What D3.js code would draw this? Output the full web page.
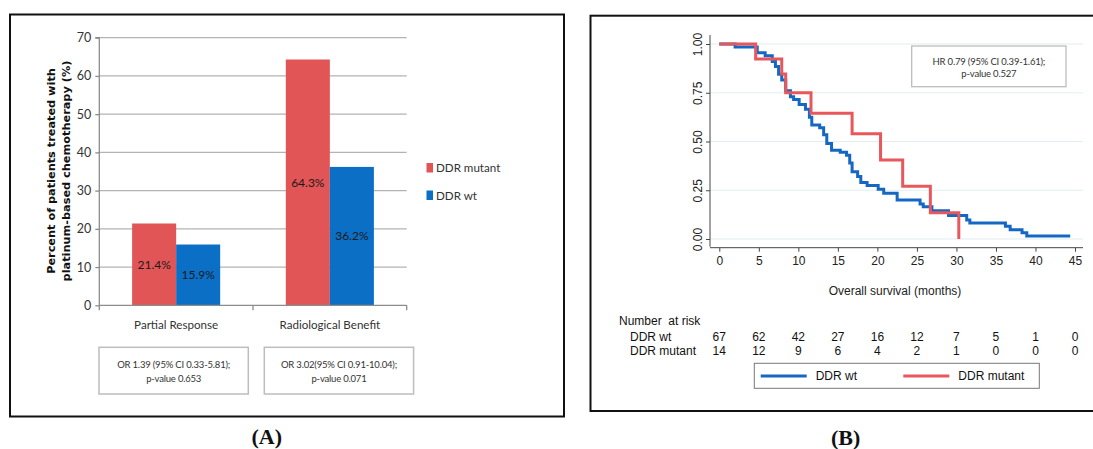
<!DOCTYPE html>
<html><head><meta charset="utf-8">
<script src="https://cdn.jsdelivr.net/npm/d3@7"></script>
<style>
body{margin:0;background:#fff;}
svg{display:block;}
</style></head>
<body><svg id="c" width="1093" height="449"></svg>
<script>
// ---------- Panel A data ----------
const categories = ["Partial Response", "Radiological Benefit"];
const seriesNames = ["DDR mutant", "DDR wt"];
const mutantValues = [21.4, 64.3];
const wtValues = [15.9, 36.2];
const barLabels = [["21.4%", "15.9%"], ["64.3%", "36.2%"]];
const yTicksA = [0, 10, 20, 30, 40, 50, 60, 70];
const orTexts = [["OR 1.39 (95% CI 0.33-5.81);", "p-value 0.653"], ["OR 3.02(95% CI 0.91-10.04);", "p-value 0.071"]];

// ---------- Panel B data ----------
// Kaplan-Meier steps: [month, survival after drop]
const wtTimes =  [0, 2.0, 4.8, 5.8, 6.7, 7.1, 7.5, 7.9, 8.4, 9.0, 9.4, 10.1, 10.9, 11.4, 11.7, 12.7, 13.2, 13.6, 14.2, 15.3, 16.1, 16.5, 16.8, 17.5, 17.9, 18.7, 20.1, 20.8, 22.5, 25.4, 25.8, 26.9, 29.0, 31.3, 31.7, 36.2, 36.8, 38.3, 38.9, 44.2];
const wtSurv =   [1.0, 0.985, 0.955, 0.94, 0.91, 0.885, 0.845, 0.815, 0.76, 0.73, 0.715, 0.69, 0.665, 0.625, 0.585, 0.57, 0.535, 0.49, 0.455, 0.445, 0.43, 0.39, 0.345, 0.32, 0.29, 0.275, 0.255, 0.235, 0.2, 0.18, 0.165, 0.145, 0.12, 0.097, 0.082, 0.065, 0.048, 0.032, 0.015, 0.008];
const mutTimes = [0, 4.6, 7.9, 8.4, 11.6, 16.8, 20.4, 23.2, 26.7, 30.3];
const mutSurv =  [1.0, 0.923, 0.846, 0.75, 0.645, 0.54, 0.405, 0.27, 0.135, 0.0];
const xTicksB = [0, 5, 10, 15, 20, 25, 30, 35, 40, 45];
const yTicksB = [0, 0.25, 0.5, 0.75, 1.0];
const riskWt = [67, 62, 42, 27, 16, 12, 7, 5, 1, 0];
const riskMut = [14, 12, 9, 6, 4, 2, 1, 0, 0, 0];
const hrText = ["HR 0.79 (95% CI 0.39-1.61);", "p-value 0.527"];

const RED = "#e15556", BLUE = "#0b6fc6";
const KM_RED = "#e8575b", KM_BLUE = "#1468c4";
const CAL = "Lato, 'Open Sans', sans-serif";
const ARIAL = "'Liberation Sans', Arial, sans-serif";

const svg = d3.select("#c");

// ================= PANEL A =================
const gA = svg.append("g");
gA.append("rect").attr("x", 10).attr("y", 14.5).attr("width", 554).attr("height", 402)
  .attr("fill", "none").attr("stroke", "#111").attr("stroke-width", 2);

const yA = d3.scaleLinear().domain([0, 70]).range([305.3, 37.7]);
const x0 = d3.scaleBand().domain(categories).range([99.3, 406.7]).paddingInner(0.427).paddingOuter(0.2135);
const x1 = d3.scaleBand().domain(seriesNames).range([0, x0.bandwidth()]);
const colA = d3.scaleOrdinal().domain(seriesNames).range([RED, BLUE]);

// gridlines
gA.append("g").selectAll("line").data(yTicksA.filter(d => d > 0)).join("line")
  .attr("x1", 99.3).attr("x2", 406.7).attr("y1", d => yA(d)).attr("y2", d => yA(d))
  .attr("stroke", "#b3b3b3").attr("stroke-width", 1.3);

// y axis
const yAxisA = gA.append("g").attr("transform", "translate(99.3,0)")
  .call(d3.axisLeft(yA).tickValues(yTicksA).tickSize(4).tickPadding(4));
yAxisA.select(".domain").attr("stroke", "#8c8c8c").attr("stroke-width", 1.3).attr("d", `M-4,${yA(70)}H0V${yA(0)}`);
yAxisA.selectAll(".tick line").attr("stroke", "#8c8c8c").attr("stroke-width", 1.3);
yAxisA.selectAll(".tick text").attr("font-family", CAL).attr("font-size", 12.5).attr("fill", "#333");

// bars
const rows = categories.map((c, i) => ({c, vals: [mutantValues[i], wtValues[i]], labs: barLabels[i]}));
const grp = gA.append("g").selectAll("g").data(rows).join("g")
  .attr("transform", d => `translate(${x0(d.c)},0)`);
grp.selectAll("rect").data(d => d.vals.map((v, j) => ({s: seriesNames[j], v}))).join("rect")
  .attr("x", d => x1(d.s)).attr("width", x1.bandwidth())
  .attr("y", d => yA(d.v)).attr("height", d => yA(0) - yA(d.v))
  .attr("fill", d => colA(d.s));
grp.selectAll("text").data(d => d.vals.map((v, j) => ({s: seriesNames[j], v, l: d.labs[j]}))).join("text")
  .attr("x", d => x1(d.s) + x1.bandwidth() / 2).attr("y", d => (yA(d.v) + yA(0)) / 2)
  .attr("text-anchor", "middle").attr("dy", "0.35em")
  .attr("font-family", CAL).attr("font-size", 12).attr("fill", "#1a1a1a").text(d => d.l);

// x axis
const xAxisG = gA.append("g");
xAxisG.append("line").attr("x1", 99.3).attr("x2", 406.7).attr("y1", yA(0)).attr("y2", yA(0))
  .attr("stroke", "#8c8c8c").attr("stroke-width", 1.3);
const bounds = [99.3, x0.range()[0] + x0.step(), 406.7];
xAxisG.selectAll("line.t").data(bounds).join("line").attr("class", "t")
  .attr("x1", d => d).attr("x2", d => d).attr("y1", yA(0)).attr("y2", yA(0) + 5)
  .attr("stroke", "#8c8c8c").attr("stroke-width", 1.3);
xAxisG.selectAll("text").data(categories).join("text")
  .attr("x", d => x0(d) + x0.bandwidth() / 2).attr("y", 329)
  .attr("text-anchor", "middle").attr("font-family", CAL).attr("font-size", 11.6).attr("fill", "#333").text(d => d);

// y title
const yt = gA.append("g").attr("transform", "translate(0,171) rotate(-90)");
yt.append("text").attr("x", 0).attr("y", 54.5).attr("text-anchor", "middle")
  .attr("font-family", "'DejaVu Sans', Verdana, sans-serif").attr("font-weight", "bold").attr("font-size", 11.3).attr("fill", "#111")
  .text("Percent of patients treated with");
yt.append("text").attr("x", 0).attr("y", 70).attr("text-anchor", "middle")
  .attr("font-family", "'DejaVu Sans', Verdana, sans-serif").attr("font-weight", "bold").attr("font-size", 11.3).attr("fill", "#111")
  .text("platinum-based chemotherapy (%)");

// legend A
const legA = gA.append("g").selectAll("g").data(seriesNames).join("g")
  .attr("transform", (d, i) => `translate(426.5,${163 + i * 27.5})`);
legA.append("rect").attr("width", 6.5).attr("height", 9.5).attr("fill", d => colA(d));
legA.append("text").attr("x", 9.5).attr("y", 5).attr("dy", "0.35em")
  .attr("font-family", CAL).attr("font-size", 11.6).attr("fill", "#333").text(d => d);

// OR boxes
const orBoxes = gA.append("g").selectAll("g").data(orTexts).join("g")
  .attr("transform", (d, i) => `translate(${[99, 264.3][i]},347.3)`);
orBoxes.append("rect").attr("width", 149.3).attr("height", 46.7)
  .attr("fill", "#fff").attr("stroke", "#bdbdbd").attr("stroke-width", 1.5);
orBoxes.selectAll("text").data(d => d).join("text")
  .attr("x", 74.65).attr("y", (d, i) => 17 + i * 14.7).attr("dy", "0.35em").attr("text-anchor", "middle")
  .attr("font-family", CAL).attr("font-size", 9.5).attr("letter-spacing", -0.2).attr("fill", "#333").text(d => d);

svg.append("text").attr("x", 266.7).attr("y", 443.5).attr("text-anchor", "middle")
  .attr("font-family", "'Liberation Serif', 'DejaVu Serif', serif").attr("font-weight", "bold").attr("font-size", 22)
  .attr("fill", "#111").text("(A)");

// ================= PANEL B =================
const gB = svg.append("g");
gB.append("rect").attr("x", 590.5).attr("y", 15.7).attr("width", 520).attr("height", 395.3)
  .attr("fill", "none").attr("stroke", "#111").attr("stroke-width", 2);

const xB = d3.scaleLinear().domain([0, 45]).range([719.3, 1075]);
const yB = d3.scaleLinear().domain([0, 1]).range([239, 44]);

gB.append("g").selectAll("line").data(yTicksB).join("line")
  .attr("x1", 710).attr("x2", 1083).attr("y1", d => yB(d)).attr("y2", d => yB(d))
  .attr("stroke", "#e2eef1").attr("stroke-width", 1.2);

// y axis B
const yAxisB = gB.append("g").attr("transform", "translate(710,0)")
  .call(d3.axisLeft(yB).tickValues(yTicksB).tickFormat(d3.format(".2f")).tickSize(4).tickPadding(4));
yAxisB.select(".domain").attr("d", `M0,35V246.7`).attr("stroke", "#444").attr("stroke-width", 1);
yAxisB.selectAll(".tick line").attr("stroke", "#444");
yAxisB.selectAll(".tick text").attr("font-family", ARIAL).attr("font-size", 12).attr("fill", "#222")
  .attr("text-anchor", "middle").attr("x", null).attr("dy", "0.35em")
  .attr("transform", "translate(-12,0) rotate(-90)");

// x axis B
const xAxisB = gB.append("g").attr("transform", "translate(0,247.7)")
  .call(d3.axisBottom(xB).tickValues(xTicksB).tickSize(4).tickPadding(5));
xAxisB.select(".domain").attr("d", `M710,0H1083`).attr("stroke", "#444").attr("stroke-width", 1);
xAxisB.selectAll(".tick line").attr("stroke", "#444");
xAxisB.selectAll(".tick text").attr("font-family", ARIAL).attr("font-size", 12).attr("fill", "#222");

gB.append("text").attr("x", 895).attr("y", 291).attr("dy", "0.35em").attr("text-anchor", "middle")
  .attr("font-family", ARIAL).attr("font-size", 12).attr("fill", "#222").text("Overall survival (months)");

// KM curves
const stepLine = d3.line().x(d => xB(d[0])).y(d => yB(d[1])).curve(d3.curveStepAfter);
const wtData = wtTimes.map((t, i) => [t, wtSurv[i]]);
const mutData = mutTimes.map((t, i) => [t, mutSurv[i]]);
gB.append("path").datum(wtData).attr("d", stepLine).attr("fill", "none")
  .attr("stroke", KM_BLUE).attr("stroke-width", 3);
gB.append("path").datum(mutData).attr("d", stepLine).attr("fill", "none")
  .attr("stroke", KM_RED).attr("stroke-width", 3);

// HR box
const hr = gB.append("g").attr("transform", "translate(911.7,46)");
hr.append("rect").attr("width", 154.3).attr("height", 40.7).attr("fill", "#fff")
  .attr("stroke", "#bdbdbd").attr("stroke-width", 1.3);
hr.selectAll("text").data(hrText).join("text")
  .attr("x", 77.15).attr("y", (d, i) => 15.7 + i * 11.6).attr("dy", "0.35em").attr("text-anchor", "middle")
  .attr("font-family", CAL).attr("font-size", 9.5).attr("letter-spacing", -0.2).attr("fill", "#333").text(d => d);

// Risk table
const rt = gB.append("g").attr("font-family", ARIAL).attr("font-size", 12).attr("fill", "#111");
rt.append("text").attr("x", 619).attr("y", 321).attr("dy", "0.35em").style("white-space", "pre").text("Number  at risk");
rt.append("text").attr("x", 630).attr("y", 336.7).attr("dy", "0.35em").text("DDR wt");
rt.append("text").attr("x", 630).attr("y", 351).attr("dy", "0.35em").text("DDR mutant");
rt.selectAll("text.w").data(riskWt).join("text").attr("class", "w")
  .attr("x", (d, i) => xB(xTicksB[i])).attr("y", 336.7).attr("dy", "0.35em").attr("text-anchor", "middle").text(d => d);
rt.selectAll("text.m").data(riskMut).join("text").attr("class", "m")
  .attr("x", (d, i) => xB(xTicksB[i])).attr("y", 351).attr("dy", "0.35em").attr("text-anchor", "middle").text(d => d);

// Legend B
const lg = gB.append("g");
lg.append("rect").attr("x", 754.3).attr("y", 363.3).attr("width", 285).attr("height", 25)
  .attr("fill", "#fff").attr("stroke", "#777").attr("stroke-width", 1);
const legItems = [{n: "DDR wt", c: KM_BLUE, x: 760.7}, {n: "DDR mutant", c: KM_RED, x: 903.3}];
const li = lg.selectAll("g").data(legItems).join("g").attr("transform", d => `translate(${d.x},376)`);
li.append("line").attr("x1", 0).attr("x2", 46).attr("stroke", d => d.c).attr("stroke-width", 3);
li.append("text").attr("x", 55).attr("dy", "0.35em").attr("font-family", ARIAL).attr("font-size", 12)
  .attr("fill", "#111").text(d => d.n);

svg.append("text").attr("x", 845.7).attr("y", 445).attr("text-anchor", "middle")
  .attr("font-family", "'Liberation Serif', 'DejaVu Serif', serif").attr("font-weight", "bold").attr("font-size", 22)
  .attr("fill", "#111").text("(B)");
</script>
</body></html>
